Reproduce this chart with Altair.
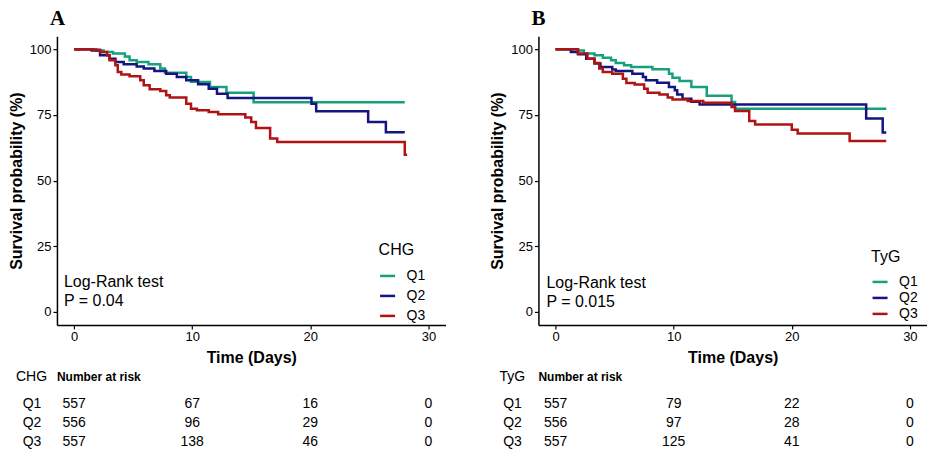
import altair as alt
import pandas as pd

groups = ["Q1", "Q2", "Q3"]
colors = ["#17a07e", "#15157f", "#b01313"]

# ---- Panel A (CHG) survival steps ----
a_q1_t = [0, 1.9, 2.5, 3.3, 4.3, 4.7, 5.3, 6.3, 7.3, 7.7, 9.5, 9.9, 11.5, 12.9, 15.2, 28.0]
a_q1_s = [100, 99.6, 99.0, 98.4, 97.3, 95.8, 95.2, 94.3, 92.7, 91.1, 89.5, 87.6, 85.6, 83.5, 79.8, 79.8]
a_q2_t = [0, 1.5, 2.2, 3.0, 3.5, 4.2, 5.3, 5.9, 6.8, 7.8, 8.7, 9.5, 10.5, 11.4, 12.1, 13.0, 20.1, 20.5, 24.9, 26.4, 28.0]
a_q2_s = [100, 99.6, 97.7, 96.4, 95.2, 94.3, 93.5, 92.7, 91.7, 90.7, 89.5, 88.2, 86.7, 85.0, 83.1, 81.5, 79.3, 76.4, 72.3, 68.4, 68.4]
a_q3_t = [0, 1.6, 2.2, 2.8, 3.0, 3.5, 3.7, 4.0, 4.7, 5.6, 5.9, 6.4, 7.3, 7.8, 8.1, 9.5, 9.9, 10.4, 11.4, 12.2, 14.5, 15.0, 15.4, 16.6, 17.2, 28.0, 28.2]
a_q3_s = [100, 99.8, 99.0, 97.7, 95.8, 93.9, 91.4, 90.4, 89.7, 88.2, 86.3, 84.8, 84.1, 82.5, 81.6, 79.3, 77.4, 76.8, 76.1, 75.3, 74.0, 72.3, 70.0, 66.0, 64.7, 59.8, 59.8]

# ---- Panel B (TyG) survival steps ----
b_q1_t = [0, 1.9, 2.4, 3.3, 4.0, 4.7, 5.1, 5.8, 6.4, 8.2, 9.6, 9.9, 10.5, 11.5, 12.8, 14.9, 15.2, 28.0]
b_q1_s = [100, 99.6, 98.4, 97.7, 96.8, 95.8, 94.8, 93.9, 93.3, 92.4, 90.7, 89.2, 87.9, 85.6, 82.3, 79.9, 77.4, 77.4]
b_q2_t = [0, 1.3, 1.9, 2.6, 3.3, 3.8, 4.8, 5.1, 6.5, 7.4, 7.65, 8.6, 9.6, 10.1, 10.3, 10.75, 11.5, 12.2, 26.3, 27.7, 28.0]
b_q2_s = [100, 99.0, 98.1, 96.4, 94.6, 93.3, 92.3, 91.7, 90.7, 89.5, 88.2, 87.3, 85.6, 84.4, 82.8, 81.2, 80.0, 79.0, 73.6, 68.3, 68.3]
b_q3_t = [0, 1.9, 2.7, 3.3, 3.7, 4.0, 4.8, 5.7, 6.0, 6.7, 7.5, 7.8, 8.8, 9.5, 9.9, 11.2, 12.5, 14.9, 15.2, 16.4, 16.9, 20.0, 20.5, 24.9, 28.0]
b_q3_s = [100, 98.4, 96.4, 94.8, 92.7, 91.4, 90.7, 88.8, 87.2, 86.6, 85.0, 83.5, 82.8, 81.6, 80.9, 80.3, 79.6, 78.0, 76.5, 72.7, 71.4, 69.4, 67.9, 65.1, 65.1]

# ---- Number at risk ----
risk_times = [0, 10, 20, 30]
a_risk = {"Q1": [557, 67, 16, 0], "Q2": [556, 96, 29, 0], "Q3": [557, 138, 46, 0]}
b_risk = {"Q1": [557, 79, 22, 0], "Q2": [556, 97, 28, 0], "Q3": [557, 125, 41, 0]}

x_ticks = [0, 10, 20, 30]
y_ticks = [0, 25, 50, 75, 100]

FONT = "Liberation Sans"
W, H = 389, 289


def curves_df(series):
    rows = []
    for g, (ts, ss) in zip(groups, series):
        for t, s in zip(ts, ss):
            rows.append({"time": t, "surv": s, "group": g})
    return pd.DataFrame(rows)


def risk_df(risk):
    rows = []
    for g in groups:
        for t, n in zip(risk_times, risk[g]):
            rows.append({"time": t, "group": g, "n": str(n)})
    return pd.DataFrame(rows)


def panel(label, var, series, risk, pval, leg):
    xenc = alt.X("time:Q",
                 scale=alt.Scale(domain=[-1.45, 31.45], nice=False, zero=False),
                 axis=alt.Axis(values=x_ticks, title="Time (Days)", titlePadding=6,
                               labelPadding=2))
    table_y = alt.Y("group:N",
                    scale=alt.Scale(type="point", domain=groups, range=[368, 406], padding=0),
                    axis=None)

    lines = alt.Chart(curves_df(series)).mark_line(
        interpolate="step-after", strokeWidth=2.5
    ).encode(
        x=xenc,
        y=alt.Y("surv:Q", scale=alt.Scale(domain=[-5, 105], nice=False, zero=False),
                axis=alt.Axis(values=y_ticks, title="Survival probability (%)",
                              titlePadding=5, labelPadding=2)),
        color=alt.Color("group:N",
                        scale=alt.Scale(domain=groups, range=colors),
                        legend=alt.Legend(title=var, orient="none",
                                          legendX=leg["x"], legendY=leg["y"],
                                          symbolType="stroke", symbolStrokeWidth=2.5,
                                          symbolSize=225, titleFontSize=16,
                                          titleFontWeight="normal", labelFontSize=14,
                                          rowPadding=leg["rowpad"], titlePadding=leg["titlepad"],
                                          labelOffset=10, padding=0,
                                          titleColor="black", labelColor="black")),
    )

    rdf = risk_df(risk)
    numbers = alt.Chart(rdf).mark_text(fontSize=14, font=FONT, color="black").encode(
        x=xenc, y=table_y, text="n:N"
    )
    labels = alt.Chart(pd.DataFrame({"group": groups})).mark_text(
        fontSize=14, font=FONT, color="black"
    ).encode(x=alt.value(leg["labx"]), y=table_y, text="group:N")

    hdr = pd.DataFrame({"a": [0]})
    head_var = alt.Chart(hdr).mark_text(text=var, fontSize=14, font=FONT, align="left",
                                        baseline="middle", color="black").encode(
        x=alt.value(leg["varx"]), y=alt.value(341))
    head_num = alt.Chart(hdr).mark_text(text="Number at risk", fontSize=12, font=FONT,
                                        fontWeight="bold", align="left",
                                        baseline="middle", color="black").encode(
        x=alt.value(0), y=alt.value(341))
    lr1 = alt.Chart(hdr).mark_text(text="Log-Rank test", fontSize=16, font=FONT,
                                   align="left", baseline="middle", color="black").encode(
        x=alt.value(leg["lrx"]), y=alt.value(leg["lry"]))
    lr2 = alt.Chart(hdr).mark_text(text=pval, fontSize=16, font=FONT,
                                   align="left", baseline="middle", color="black").encode(
        x=alt.value(leg["lrx"]), y=alt.value(leg["lry"] + 19))

    return alt.layer(lines, numbers, labels, head_var, head_num, lr1, lr2).resolve_scale(
        y="independent"
    ).properties(
        width=W, height=H,
        title=alt.TitleParams(label, anchor="start", font="Liberation Serif", fontSize=21,
                              fontWeight="bold", dx=-7, offset=7, color="black",
                              frame="group"),
    )


panel_a = panel("A", "CHG",
                [(a_q1_t, a_q1_s), (a_q2_t, a_q2_s), (a_q3_t, a_q3_s)],
                a_risk, "P = 0.04",
                {"x": 322, "y": 206, "rowpad": 4, "titlepad": 9,
                 "labx": -25, "varx": -41, "lrx": 7, "lry": 246})
panel_b = panel("B", "TyG",
                [(b_q1_t, b_q1_s), (b_q2_t, b_q2_s), (b_q3_t, b_q3_s)],
                b_risk, "P = 0.015",
                {"x": 333, "y": 213, "rowpad": 0, "titlepad": 8,
                 "labx": -26, "varx": -39, "lrx": 8, "lry": 247})

chart = alt.hconcat(panel_a, panel_b, spacing=44).resolve_scale(
    color="independent"
).resolve_legend(color="independent").properties(padding=0).configure(
    font=FONT
).configure_view(stroke=None).configure_axis(
    grid=False, domainColor="black", domainWidth=1.5, tickColor="black", tickSize=4,
    tickWidth=1.2, labelColor="black", labelFontSize=13, labelFont=FONT,
    titleFont=FONT, titleFontSize=16, titleFontWeight="bold", titleColor="black"
)

chart.save("out.html", embed_options={"renderer": "svg", "actions": False})
